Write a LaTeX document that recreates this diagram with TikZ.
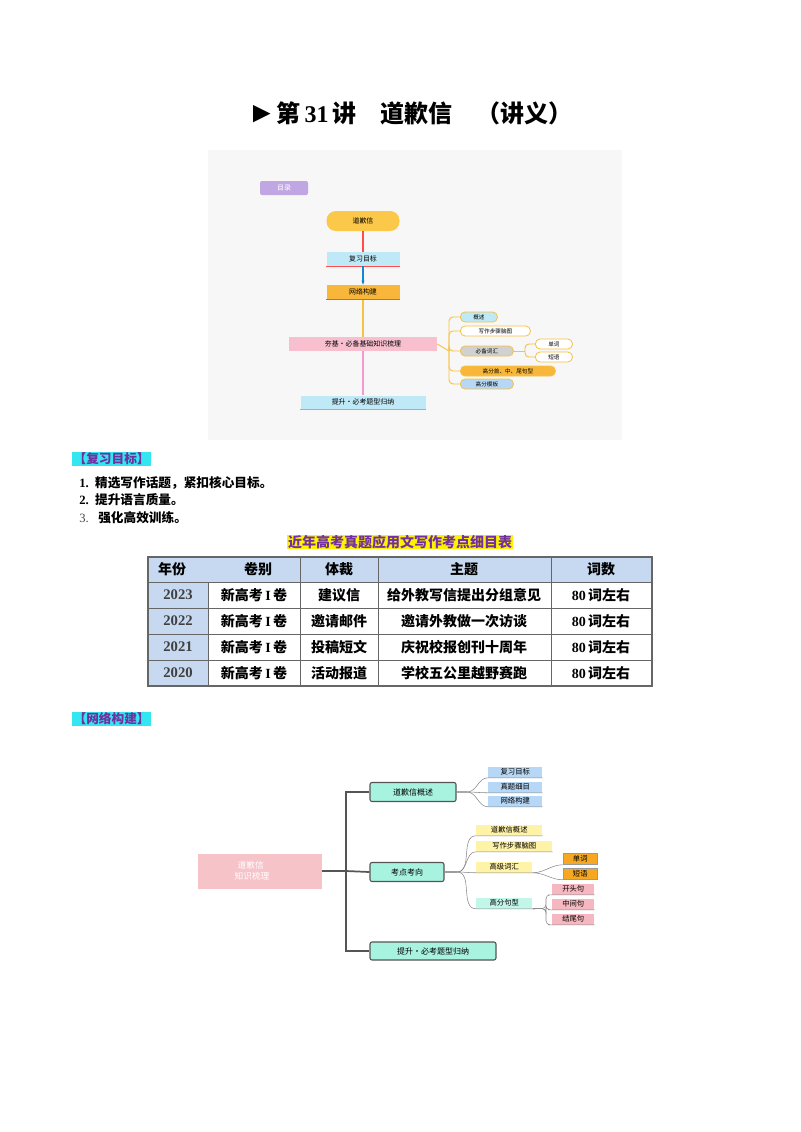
\documentclass[tikz,border=0pt]{standalone}
\usepackage{fontspec}
\setmainfont{Noto Sans CJK SC}
\newfontfamily\ser{Liberation Serif}
\usetikzlibrary{arrows.meta}
\definecolor{tblue}{HTML}{C6D9F0}
\definecolor{hpur}{HTML}{7030A0}
\definecolor{cyanbg}{HTML}{33E6F0}
\definecolor{aq}{HTML}{A8F2E0}
\definecolor{lb}{HTML}{BFE9F7}
\definecolor{og}{HTML}{F8B73A}
\definecolor{yl}{HTML}{FCC84A}
\definecolor{pk}{HTML}{F8C0CF}
\definecolor{mmline}{HTML}{F5C242}
\definecolor{sbl}{HTML}{B6D7F5}
\definecolor{syl}{HTML}{FFF3A8}
\definecolor{sor}{HTML}{F7A823}
\definecolor{spk}{HTML}{F5B8C0}
\definecolor{trunk}{HTML}{555555}
\tikzset{
 px/.style={x=0.75pt,y=-0.75pt},
 W/.style={minimum width=#1*0.75pt},
 H/.style={minimum height=#1*0.75pt},
 cell/.style={font=\fontsize{10.5}{12}\selectfont\bfseries,anchor=center},
 yr/.style={font=\ser\fontsize{11}{12}\selectfont\bfseries,text=black!75,anchor=center},
 sec/.style={fill=cyanbg,text=hpur,font=\fontsize{9.5}{11}\selectfont\bfseries,inner sep=1pt,anchor=west},
 li/.style={font=\fontsize{9.5}{11}\selectfont\bfseries,anchor=west,inner sep=0pt},
 mm/.style={font=\fontsize{5.2}{6}\selectfont,inner sep=0pt,anchor=center},
 ab/.style={rounded corners=1.5pt,draw=trunk,line width=0.8pt,fill=aq,font=\fontsize{6}{7}\selectfont,inner sep=0pt},
 sb/.style={font=\fontsize{5.5}{6}\selectfont,inner sep=0pt},
}
\begin{document}
\begin{tikzpicture}[px]
\useasboundingbox (0,0) rectangle (800,1132);
\fill[white] (0,0) rectangle (800,1132);
% title
\node[font=\fontsize{18}{20}\selectfont\bfseries] (title) at (410,113) {{\ser\fontsize{22}{22}\selectfont ►}第{\ser\,31\,}讲\quad 道歉信\quad （讲义）};
% first mindmap
\fill[black!3] (208,150) rectangle (622,440);
\node[mm,fill=purple!40!blue!35,text=white,rounded corners=1.5pt,W=48,H=14] (ml) at (284,188) {目录};
\node[mm,fill=yl,W=73,H=20,rounded corners=7pt] (m0) at (363,221) {道歉信};
\node[mm,fill=lb,W=73,H=14] (m1) at (363,259) {复习目标};
\node[mm,fill=og,W=73,H=14] (m2) at (363,292) {网络构建};
\node[mm,fill=pk,W=148,H=14] (m3) at (363,344) {夯基·必备基础知识梳理};
\node[mm,fill=lb,W=125,H=13] (m4) at (363,402) {提升·必考题型归纳};
\draw[red!70,line width=0.8pt] (m0.south) -- (m1.north);
\draw[red!70] (m1.south west) -- (m1.south east);
\draw[-{Stealth[length=3pt]},cyan!70!blue,line width=0.8pt] (m1.south) -- (m2.north);
\draw[mmline,line width=0.8pt] (m2.south) -- (m3.north);
\draw[magenta!40,line width=0.8pt] (m3.south) -- (m4.north);
\draw[cyan] (m2.south west) -- (m2.south east);
\draw[magenta!50] (m4.south west) -- (m4.south east);
\tikzset{sm/.style={mm,font=\fontsize{4.2}{5}\selectfont,draw=mmline,line width=0.6pt,rounded corners=3.5pt,H=10,anchor=west}}
\node[sm,fill=lb,W=37] (a1) at (460,317) {概述};
\node[sm,fill=white,W=70] (a2) at (460,331) {写作步骤脑图};
\node[sm,fill=black!18,W=53] (a3) at (460,351) {必备词汇};
\node[sm,fill=white,W=37] (a31) at (535,344) {单词};
\node[sm,fill=white,W=37] (a32) at (535,357) {短语};
\node[sm,fill=og,W=95] (a4) at (460,371) {高分首、中、尾句型};
\node[sm,fill=sbl,W=53] (a5) at (460,384) {高分模板};
\coordinate (br) at (449,351);
\draw[mmline,line width=0.7pt] (m3.east) -- (br);
\foreach \t in {a1,a2,a3,a4,a5}{\draw[mmline,line width=0.7pt,rounded corners=3pt] (br) |- (\t.west);}
\coordinate (br2) at (525,351);
\draw[mmline,line width=0.7pt] (a3.east) -- (br2);
\foreach \t in {a31,a32}{\draw[mmline,line width=0.7pt,rounded corners=3pt] (br2) |- (\t.west);}
% section 1
\node[sec] (s1) at (72,459) {【复习目标】};
\node[li] (l1) at (79,483) {{\ser 1.\ \ }精选写作话题，紧扣核心目标。};
\node[li] (l2) at (79,500) {{\ser 2.\ \ }提升语言质量。};
\node[li] (l3) at (79,518) {{\ser\mdseries\color{black!70}3.\ \ \ }强化高效训练。};
\node[fill=yellow,text=hpur,font=\fontsize{10.5}{12}\selectfont\bfseries,inner sep=0.5pt] (tt) at (400,542) {近年高考真题应用文写作考点细目表};
% table
\fill[tblue] (148,557) rectangle (652,582);
\fill[tblue] (148,582) rectangle (208,686);
\draw[black!60,line width=0.8pt] (148,557) rectangle (652,686);
\foreach \y in {582,608,634,660} \draw[black!60,line width=0.6pt] (148,\y) -- (652,\y);
\draw[black!60,line width=0.6pt] (208,582) -- (208,686);
\foreach \x in {300,378,551} \draw[black!60,line width=0.6pt] (\x,557) -- (\x,686);
\node[cell] (h1) at (172,569) {年份};
\node[cell] (h2) at (258,569) {卷别};
\node[cell] (h3) at (339,569) {体裁};
\node[cell] (h4) at (464,569) {主题};
\node[cell] (h5) at (601,569) {词数};
\foreach \y/\yy/\g/\th [count=\i] in {595/2023/建议信/给外教写信提出分组意见,621/2022/邀请邮件/邀请外教做一次访谈,647/2021/投稿短文/庆祝校报创刊十周年,673/2020/活动报道/学校五公里越野赛跑}{
 \node[yr] (y\i) at (178,\y) {\yy};
 \node[cell] (v\i) at (254,\y) {新高考{\ser\,I\,}卷};
 \node[cell] (g\i) at (339,\y) {\g};
 \node[cell] (t\i) at (464,\y) {\th};
 \node[cell] (w\i) at (601,\y) {{\ser 80\,}词左右};
}
% section 2
\node[sec] (s2) at (72,719) {【网络构建】};
% second mindmap
\node[fill=spk!85!white,W=124,H=35,inner sep=0,text=white,font=\fontsize{6.5}{8}\selectfont,align=center] (r) at (260,871) {\hspace*{-14pt}道歉信\\\hspace*{-12pt}知识梳理};
\node[ab,W=86,H=19] (b1) at (413,792) {道歉信概述};
\node[ab,W=74,H=19] (b2) at (407,872) {考点考向};
\node[ab,W=126,H=18] (b3) at (433,951) {提升·必考题型归纳};
\draw[trunk,line width=1.3pt] (r.east) -- (346,871);
\draw[trunk,line width=1.3pt] (b1.west) -| (346,871) |- (b3.west);
\draw[trunk,line width=1.3pt] (346,871) -- (b2.west);
\tikzset{lf/.style={sb,H=11,anchor=west}}
\node[lf,fill=sbl,W=54] (c1) at (488,772) {复习目标};
\node[lf,fill=sbl,W=54] (c2) at (488,787) {真题细目};
\node[lf,fill=sbl,W=54] (c3) at (488,801) {网络构建};
\foreach \t in {c1,c2,c3}{\draw[trunk!70] (b1.east) -- (467,792) to[out=0,in=180] (\t.south west) -- (\t.south east);}
\node[lf,fill=syl,W=66] (d1) at (476,830) {道歉信概述};
\node[lf,fill=syl,W=76] (d2) at (476,846) {写作步骤脑图};
\node[lf,fill=syl,W=56] (d3) at (476,867) {高级词汇};
\node[lf,fill=aq!70!white,W=56] (d4) at (476,903) {高分句型};
\foreach \t in {d1,d2,d3,d4}{\draw[trunk!70] (b2.east) -- (457,872) to[out=0,in=180] (\t.south west) -- (\t.south east);}
\tikzset{lf2/.style={sb,H=11,anchor=west,draw=trunk!60,line width=0.4pt}}
\node[lf2,fill=sor,W=34] (e1) at (563,859) {单词};
\node[lf2,fill=sor,W=34] (e2) at (563,874) {短语};
\foreach \t in {e1,e2}{\draw[trunk!70] (d3.south east) to[out=0,in=180] (\t.south west);}
\node[lf,fill=spk,W=42] (f1) at (552,889) {开头句};
\node[lf,fill=spk,W=42] (f2) at (552,904) {中间句};
\node[lf,fill=spk,W=42] (f3) at (552,919) {结尾句};
\foreach \t in {f1,f2,f3}{\draw[trunk!70,rounded corners=3pt] (d4.south east) -- (546,908.5) |- (\t.south west) -- (\t.south east);}
\end{tikzpicture}
\end{document}
